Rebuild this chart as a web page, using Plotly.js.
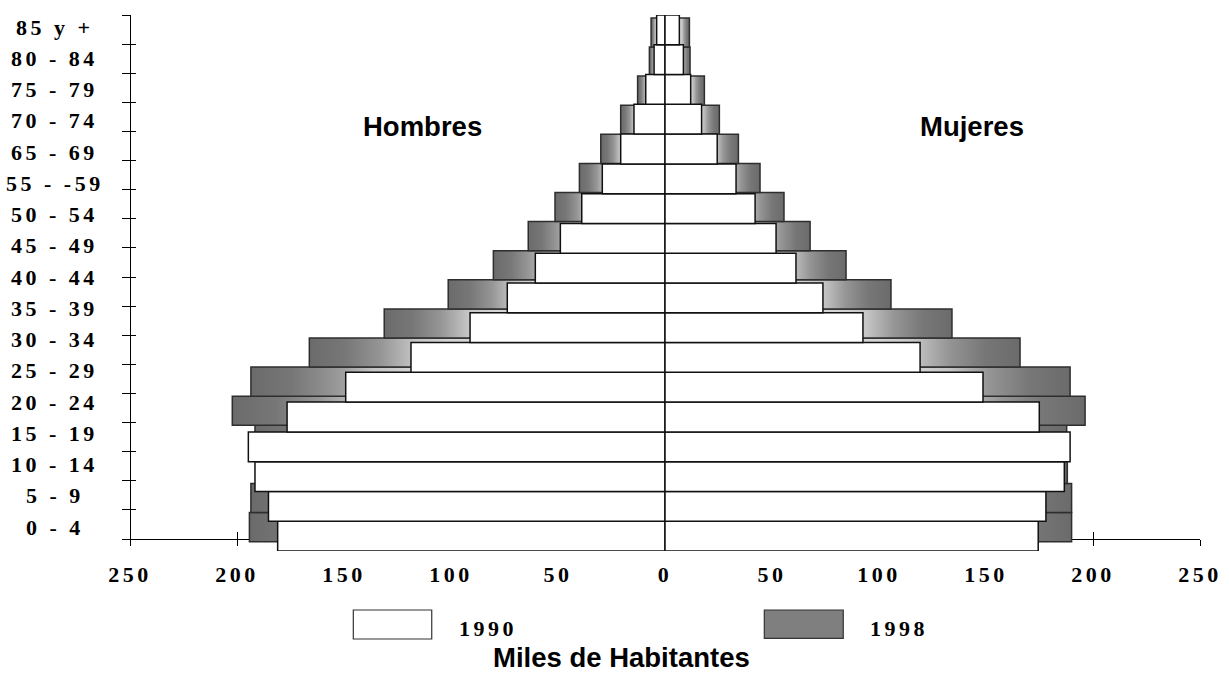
<!DOCTYPE html>
<html>
<head>
<meta charset="utf-8">
<script src="https://cdn.plot.ly/plotly-3.0.1.min.js"></script>
<style>
  html, body { margin: 0; padding: 0; background: #ffffff; }
  #chart { width: 1229px; height: 674px; }
  text[style*="Liberation Serif"] { letter-spacing: 3.5px; }
</style>
</head>
<body>
<div id="chart"></div>
<script>
// Age groups of the bars (bottom to top)
const ageGroups = ['0 - 4','5 - 9','10 - 14','15 - 19','20 - 24','25 - 29','30 - 34','35 - 39',
  '40 - 44','45 - 49','50 - 54','55 - 59','60 - 64','65 - 69','70 - 74','75 - 79','80 - 84','85 y +'];
// Labels printed on the vertical axis (as in the original, bottom to top)
const axisLabels = ['0 - 4','5 - 9','10 - 14','15 - 19','20 - 24','25 - 29','30 - 34','35 - 39',
  '40 - 44','45 - 49','50 - 54','55 - -59','65 - 69','70 - 74','75 - 79','80 - 84','85 y +'];

// Thousands of inhabitants
const hombres1990 = [181.0, 185.3, 191.6, 194.7, 176.6, 149.2, 118.7, 91.1, 73.7, 60.6, 48.9, 38.9, 29.3, 20.7, 14.5, 9.0, 5.1, 3.9];
const mujeres1990 = [174.4, 178.0, 186.6, 189.3, 174.9, 148.6, 119.2, 92.5, 73.8, 61.2, 51.9, 42.1, 33.2, 24.4, 17.1, 12.0, 8.6, 6.7];
const hombres1998 = [194.2, 193.5, 190.0, 191.6, 202.2, 193.5, 166.2, 131.2, 101.3, 80.2, 63.9, 51.4, 40.0, 30.0, 20.7, 12.8, 7.3, 6.5];
const mujeres1998 = [190.0, 190.0, 188.0, 187.7, 196.3, 189.3, 165.9, 134.1, 105.6, 84.6, 67.8, 55.6, 44.4, 34.3, 25.4, 18.4, 11.7, 11.4];

const seriesNames = ['1990', '1998'];
const sideNames = ['Hombres', 'Mujeres'];
const xTitle = 'Miles de Habitantes';

const xTickVals = [-250, -200, -150, -100, -50, 0, 50, 100, 150, 200, 250];
const xTickText = ['250', '200', '150', '100', '50', '0', '50', '100', '150', '200', '250'];

const yIdx = ageGroups.map((_, i) => i);
const serifBold = { family: 'Liberation Serif', size: 22, color: '#000', weight: 'bold' };
const sansBold = { family: 'Liberation Sans', size: 27.5, color: '#000', weight: 'bold' };

const gray = '#8a8a8a';
const grayLine = '#2e2e2e';

const traces = [
  { type: 'bar', orientation: 'h', name: seriesNames[1], y: yIdx, x: hombres1998.map(v => -v),
    xaxis: 'x', yaxis: 'y', width: 1, marker: { color: gray, line: { color: grayLine, width: 1.5 } } },
  { type: 'bar', orientation: 'h', name: seriesNames[1], y: yIdx, x: mujeres1998,
    xaxis: 'x', yaxis: 'y', width: 1, marker: { color: gray, line: { color: grayLine, width: 1.5 } } },
  { type: 'bar', orientation: 'h', name: seriesNames[0], y: yIdx, x: hombres1990.map(v => -v),
    xaxis: 'x', yaxis: 'y2', width: 1, marker: { color: '#ffffff', line: { color: '#111', width: 1.5 } } },
  { type: 'bar', orientation: 'h', name: seriesNames[0], y: yIdx, x: mujeres1990,
    xaxis: 'x', yaxis: 'y2', width: 1, marker: { color: '#ffffff', line: { color: '#111', width: 1.5 } } },
  // empty carriers so that the pure-axis layers (vertical axis line, crossing ticks) get drawn
  { type: 'scatter', mode: 'markers', x: [], y: [], xaxis: 'x', yaxis: 'y4', hoverinfo: 'skip', showlegend: false },
  { type: 'scatter', mode: 'markers', x: [], y: [], xaxis: 'x', yaxis: 'y5', hoverinfo: 'skip', showlegend: false },
  { type: 'scatter', mode: 'markers', x: [], y: [], xaxis: 'x2', yaxis: 'y', hoverinfo: 'skip', showlegend: false }
];

// plot area: x 130..1200 px, y 15..551 px
const axisPos = 12 / 536;

const annotations = [];
axisLabels.forEach((t, i) => {
  annotations.push({ text: t, xref: 'paper', yref: 'y3', x: -0.0701, y: i,
    xanchor: 'center', yanchor: 'middle', showarrow: false, font: serifBold });
});
annotations.push({ text: sideNames[0], xref: 'paper', yref: 'paper', x: 0.2729, y: 0.7929,
  xanchor: 'center', yanchor: 'middle', showarrow: false, font: sansBold });
annotations.push({ text: sideNames[1], xref: 'paper', yref: 'paper', x: 0.7869, y: 0.7929,
  xanchor: 'center', yanchor: 'middle', showarrow: false, font: sansBold });
annotations.push({ text: seriesNames[0], xref: 'paper', yref: 'paper', x: 0.3346, y: -0.1455,
  xanchor: 'center', yanchor: 'middle', showarrow: false, font: serifBold });
annotations.push({ text: seriesNames[1], xref: 'paper', yref: 'paper', x: 0.7187, y: -0.1455,
  xanchor: 'center', yanchor: 'middle', showarrow: false, font: serifBold });
annotations.push({ text: xTitle, xref: 'paper', yref: 'paper', x: 0.4589, y: -0.1978,
  xanchor: 'center', yanchor: 'middle', showarrow: false, font: sansBold });

const shapes = [
  { type: 'rect', xref: 'paper', yref: 'paper', x0: 0.2087, x1: 0.2820, y0: -0.1642, y1: -0.1101,
    fillcolor: '#ffffff', line: { color: '#333', width: 1.2 } },
  { type: 'rect', xref: 'paper', yref: 'paper', x0: 0.5928, x1: 0.6666, y0: -0.1629, y1: -0.1101,
    fillcolor: '#7f7f7f', line: { color: '#333', width: 1.2 } }
];

const layout = {
  width: 1229, height: 674,
  margin: { l: 130, r: 29, t: 15, b: 123, pad: 0 },
  paper_bgcolor: '#ffffff', plot_bgcolor: 'rgba(0,0,0,0)',
  showlegend: false, hovermode: false, barmode: 'overlay',
  xaxis: { range: [-250, 250], domain: [0, 1], anchor: 'free', position: axisPos,
    showline: true, linecolor: '#000', linewidth: 1, ticks: 'outside', ticklen: 6, tickwidth: 1, tickcolor: '#000',
    tickmode: 'array', tickvals: xTickVals, ticktext: xTickText, tickfont: serifBold, ticklabelstandoff: 10,
    showgrid: false, zeroline: false, layer: 'below traces', fixedrange: true },
  xaxis2: { overlaying: 'x', range: [-250, 250], anchor: 'free', position: axisPos,
    showline: false, ticks: 'inside', ticklen: 7, tickwidth: 1, tickcolor: '#000',
    tickmode: 'array', tickvals: xTickVals, showticklabels: false,
    showgrid: false, zeroline: false, layer: 'below traces', fixedrange: true },
  yaxis: { range: [-0.82, 17.6], visible: false, fixedrange: true },
  yaxis2: { overlaying: 'y', range: [-0.5, 17.5], visible: false, fixedrange: true },
  yaxis3: { overlaying: 'y', range: [-0.768, 16.384], visible: false, fixedrange: true },
  yaxis4: { domain: [axisPos, 1], anchor: 'free', position: 0, range: [0, 18],
    tickmode: 'linear', tick0: 0, dtick: 1, ticks: 'outside', ticklen: 8, tickwidth: 1, tickcolor: '#000',
    showticklabels: false, showline: true, linecolor: '#000', linewidth: 1,
    showgrid: false, zeroline: false, fixedrange: true },
  yaxis5: { overlaying: 'y4', anchor: 'free', position: 0, range: [0, 18],
    tickmode: 'linear', tick0: 0, dtick: 1, ticks: 'inside', ticklen: 5, tickwidth: 1, tickcolor: '#000',
    showticklabels: false, showline: false, showgrid: false, zeroline: false, fixedrange: true },
  annotations: annotations,
  shapes: shapes
};

Plotly.newPlot('chart', traces, layout, { displayModeBar: false, staticPlot: true }).then(gd => {
  // shaded fill for the 1998 bars (dark at the outer end, light towards the centre)
  const ns = 'http://www.w3.org/2000/svg';
  const svg = gd.querySelector('svg.main-svg');
  let defs = svg.querySelector('defs');
  if (!defs) { defs = document.createElementNS(ns, 'defs'); svg.insertBefore(defs, svg.firstChild); }
  const stops = [[0, '#6b6b6b'], [0.1, '#777777'], [0.2, '#959595'], [0.3, '#c6c6c6'], [0.4, '#d6d6d6'], [1, '#d6d6d6']];
  function makeGrad(id, reverse) {
    const g = document.createElementNS(ns, 'linearGradient');
    g.setAttribute('id', id);
    g.setAttribute('x1', reverse ? '1' : '0'); g.setAttribute('x2', reverse ? '0' : '1');
    g.setAttribute('y1', '0'); g.setAttribute('y2', '0');
    stops.forEach(([o, c]) => {
      const s = document.createElementNS(ns, 'stop');
      s.setAttribute('offset', o); s.setAttribute('stop-color', c);
      g.appendChild(s);
    });
    defs.appendChild(g);
  }
  makeGrad('shadeMen', false);
  makeGrad('shadeWomen', true);
  gd.querySelectorAll('g.trace.bars').forEach(el => {
    const d = el.__data__;
    const tr = d && d[0] && d[0].trace;
    if (!tr) return;
    let fill = null;
    if (tr.index === 0) fill = 'url(#shadeMen)';
    if (tr.index === 1) fill = 'url(#shadeWomen)';
    if (fill) el.querySelectorAll('path').forEach(p => { p.style.fill = fill; });
  });
});
</script>
</body>
</html>
